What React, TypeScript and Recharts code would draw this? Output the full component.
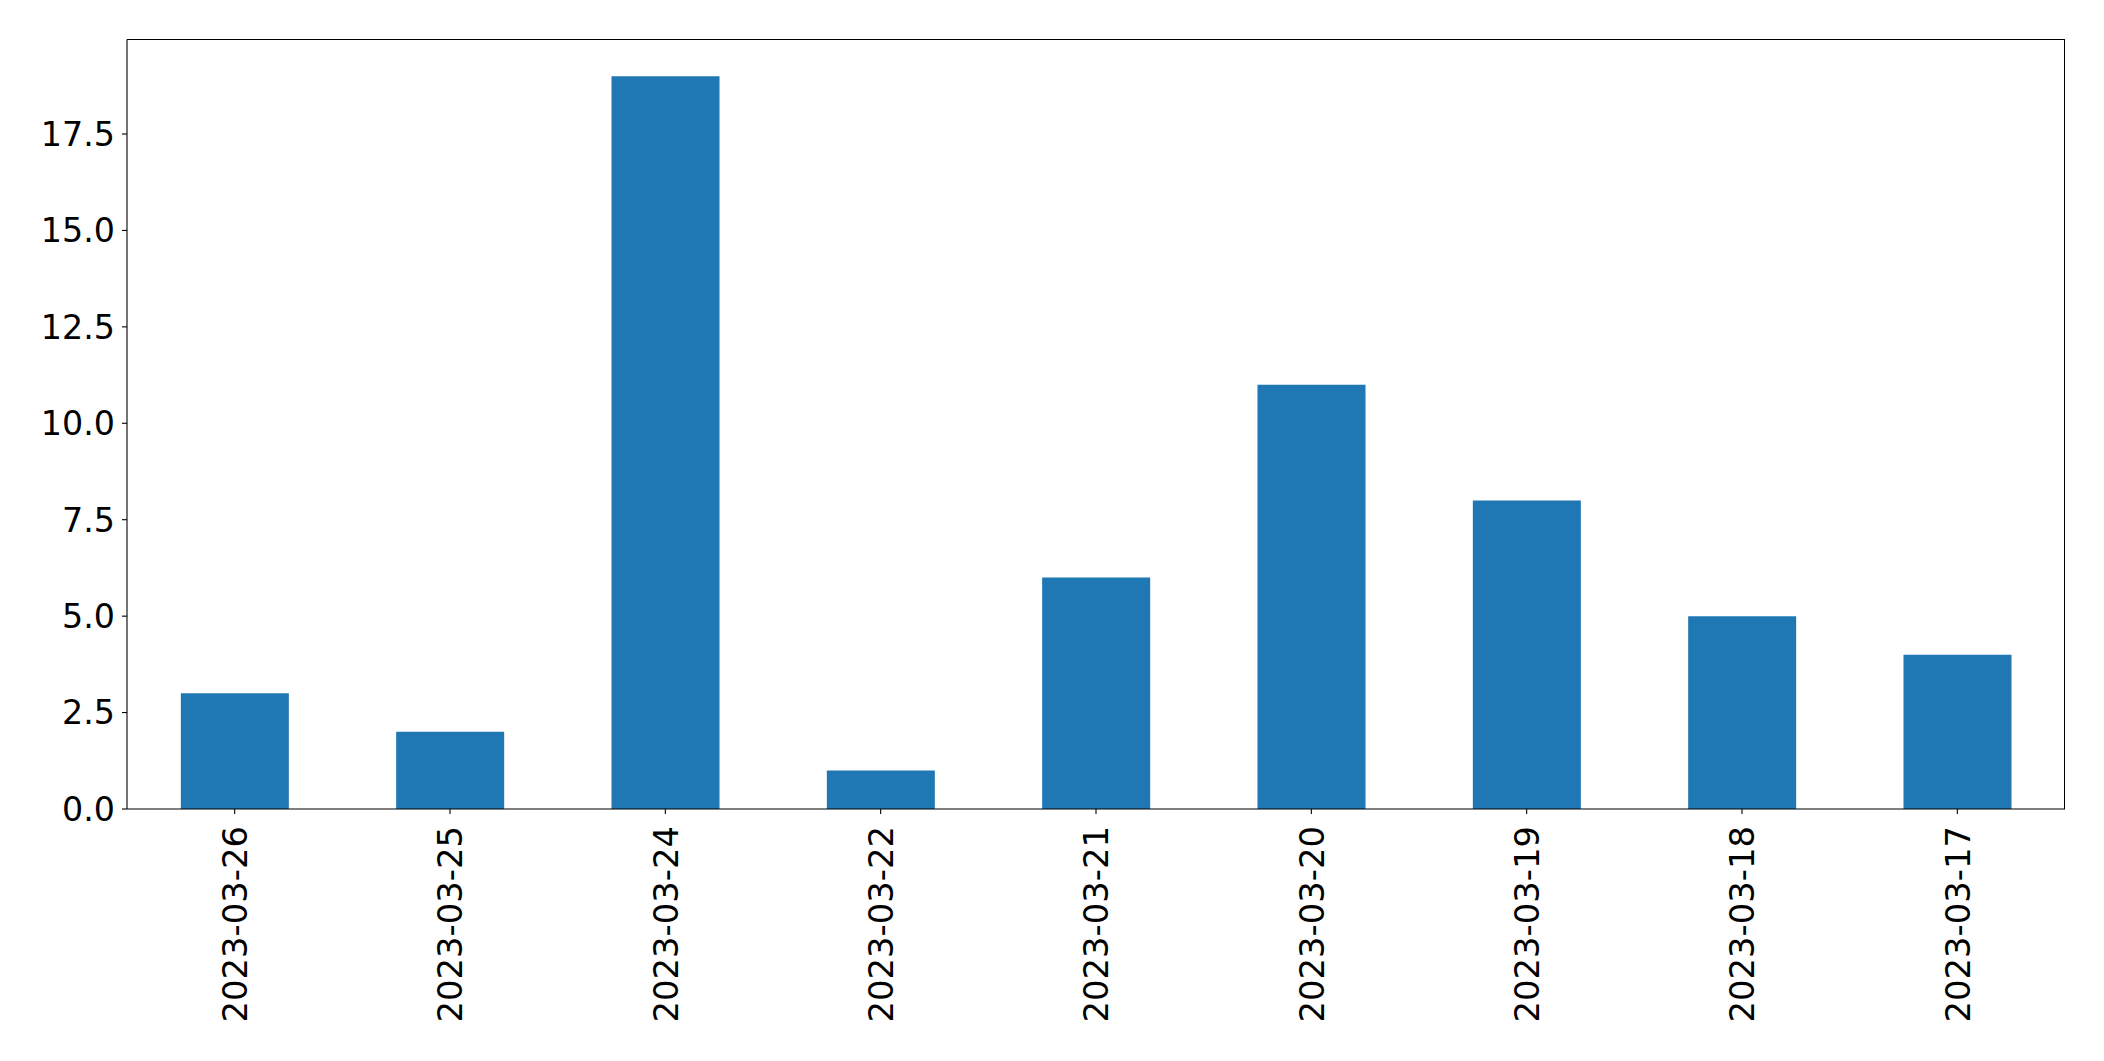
import { BarChart, Bar, XAxis, YAxis } from 'recharts';

document.body.style.margin = '0';

const dates = [
  '2023-03-26', '2023-03-25', '2023-03-24', '2023-03-22', '2023-03-21',
  '2023-03-20', '2023-03-19', '2023-03-18', '2023-03-17',
];
const counts = [3, 2, 19, 1, 6, 11, 8, 5, 4];
const yTicks = [0, 2.5, 5, 7.5, 10, 12.5, 15, 17.5];

const data = dates.map((date, i) => ({ date, count: counts[i] }));

const FONT = 'DejaVu Sans';
const W = 2104;
const H = 1061;
const M = { top: 39.5, right: 39, left: 0, bottom: 0 };
const Y_W = 127;
const X_H = 252;

function DateTick(props: any) {
  const { x, y, payload } = props;
  return (
    <g transform={`translate(${x},${y})`}>
      <text
        x={0}
        y={0}
        dy="0.36em"
        transform="rotate(-90)"
        textAnchor="end"
        fontFamily={FONT}
        fontSize={33.8}
        fill="#000"
      >
        {payload.value}
      </text>
    </g>
  );
}

export default function App() {
  return (
    <div style={{ position: 'relative', width: W, height: H, background: '#fff' }}>
      <BarChart width={W} height={H} data={data} margin={M} barCategoryGap="25%">
        <XAxis
          dataKey="date"
          interval={0}
          height={X_H}
          tick={<DateTick />}
          tickSize={5}
          tickMargin={12}
          axisLine={{ stroke: '#000', strokeWidth: 1.1 }}
          tickLine={{ stroke: '#000', strokeWidth: 1.1 }}
        />
        <YAxis
          width={Y_W}
          domain={[0, 19.95]}
          ticks={yTicks}
          tickFormatter={(v: number) => v.toFixed(1)}
          tick={{ fontFamily: FONT, fontSize: 33.3, fill: '#000' }}
          tickSize={5}
          tickMargin={7}
          axisLine={{ stroke: '#000', strokeWidth: 1.1 }}
          tickLine={{ stroke: '#000', strokeWidth: 1.1 }}
        />
        <Bar dataKey="count" fill="#1f77b4" isAnimationActive={false} />
      </BarChart>
      {/* top and right spines of the plot frame */}
      <div
        style={{
          position: 'absolute',
          left: Y_W,
          top: 39,
          width: W - M.right - Y_W,
          height: H - X_H - 39,
          borderTop: '1px solid #000',
          borderRight: '1px solid #000',
          boxSizing: 'border-box',
          pointerEvents: 'none',
        }}
      />
    </div>
  );
}
